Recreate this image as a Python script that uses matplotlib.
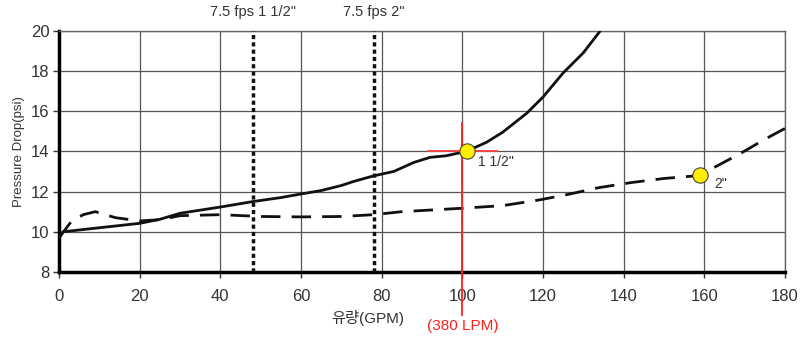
import matplotlib
matplotlib.use("Agg")
import matplotlib.pyplot as plt

plt.rcParams["font.family"] = ["Liberation Sans", "Noto Sans CJK KR", "DejaVu Sans"]

# 1 1/2" pipe (solid)
x_15 = [0, 1, 10, 20, 25, 30, 40, 48, 55, 60, 65, 70, 73, 78, 83, 88, 92, 96, 101, 106, 110, 116, 120, 125, 130, 135]
y_15 = [9.7, 10.0, 10.2, 10.42, 10.62, 10.92, 11.23, 11.5, 11.7, 11.88, 12.05, 12.3, 12.5, 12.78, 13.0, 13.45, 13.7, 13.78, 14.0, 14.45, 14.95, 15.9, 16.7, 17.9, 18.9, 20.2]

# 2" pipe (dashed)
x_2 = [0, 3, 6, 9, 14, 20, 25, 30, 40, 50, 60, 70, 78, 85, 100, 110, 119, 126, 134, 142, 150, 159, 162, 169, 175, 181.5]
y_2 = [9.7, 10.5, 10.85, 11.0, 10.7, 10.54, 10.6, 10.8, 10.85, 10.76, 10.74, 10.76, 10.85, 11.0, 11.17, 11.3, 11.58, 11.85, 12.2, 12.45, 12.65, 12.8, 13.15, 13.9, 14.6, 15.3]

fps_x = [48, 78]
fps_labels = ['7.5 fps 1 1/2"', '7.5 fps 2"']

op_flow = 100
op_1_5 = (101.2, 14.0)
op_2 = (158.9, 12.8)

fig = plt.figure(figsize=(8.02, 3.37), dpi=100)
ax = fig.add_axes([0.0736, 0.1929, 0.9052, 0.7161])

ax.set_xlim(0, 180)
ax.set_ylim(8, 20)
ax.set_xticks(range(0, 181, 20))
ax.set_yticks(range(8, 21, 2))
ax.grid(True, color="#555555", linewidth=0.9)
ax.set_axisbelow(True)

for s in ["top", "right"]:
    ax.spines[s].set_color("#666666")
    ax.spines[s].set_linewidth(1.0)
for s in ["left", "bottom"]:
    ax.spines[s].set_color("black")
    ax.spines[s].set_linewidth(2.5)

ax.tick_params(axis="both", labelsize=12, colors="#333333", length=4, width=1)
ax.tick_params(axis="x", pad=8)
ax.tick_params(axis="y", pad=3)

ax.plot(x_15, y_15, color="#111111", linewidth=2.0, zorder=3)
ax.plot(x_2, y_2, color="#111111", linewidth=2.0, dashes=(7, 4), zorder=3, clip_on=False)

for xv, lbl in zip(fps_x, fps_labels):
    ax.axvline(xv, color="#111111", linewidth=2.5, linestyle=(0, (1.2, 0.9)), zorder=3)
    ax.text(xv, 20.6, lbl, ha="center", va="bottom", fontsize=10.5, color="#333333")

# operating point
ax.plot([op_flow, op_flow], [15.4, 5.85], color="#ff2020", linewidth=1.3, zorder=4, clip_on=False)
ax.plot([91.5, 108.6], [op_1_5[1], op_1_5[1]], color="#ff4040", linewidth=1.3, zorder=4)
ax.plot(*op_1_5, marker="o", markersize=11, markerfacecolor="#ffee00",
        markeredgecolor="#444444", markeredgewidth=0.8, zorder=5)
ax.plot(*op_2, marker="o", markersize=11, markerfacecolor="#ffee00",
        markeredgecolor="#444444", markeredgewidth=0.8, zorder=5)
ax.text(103.8, 13.45, '1 1/2"', fontsize=10, color="#333333", va="center", zorder=6)
ax.text(162.5, 12.4, '2"', fontsize=10, color="#333333", va="center", zorder=6)

ax.set_ylabel("Pressure Drop(psi)", fontsize=9.5, color="#333333", labelpad=4)
fig.text(0.459, 0.057, "유량(GPM)", ha="center", va="center", fontsize=11, color="#333333")
fig.text(0.577, 0.033, "(380 LPM)", ha="center", va="center", fontsize=11, color="#ff2020")

fig.savefig("out.png", dpi=100)
